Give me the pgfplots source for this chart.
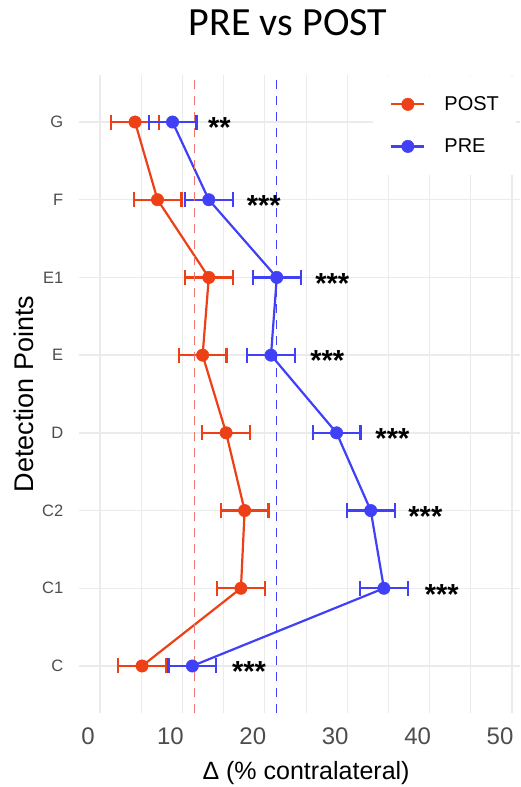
\documentclass[border=0pt]{standalone}
\usepackage{fontspec}
\setmainfont{Liberation Sans}
\newfontfamily\titlefont{Carlito}
\usepackage{pgfplots}
\usepackage{pgfplotstable}
\pgfplotsset{compat=1.18}
\definecolor{postc}{RGB}{238,64,22}
\definecolor{prec}{RGB}{64,64,246}
\definecolor{postdash}{RGB}{238,120,110}
\definecolor{gridc}{RGB}{235,235,235}
\definecolor{tickc}{RGB}{77,77,77}
\tikzset{sigstar/.style={anchor=base west, inner sep=0pt, yshift=-15.8bp, font=\bfseries\fontsize{29bp}{34bp}\selectfont}}

\pgfplotstableread{
y x e
0 5.10 2.9
1 17.10 2.9
2 17.55 2.9
3 15.30 2.9
4 12.45 2.9
5 13.20 2.9
6 6.98 2.9
7 4.25 2.9
}\posttable
\pgfplotstableread{
y x e
0 11.20 2.9
1 34.45 2.9
2 32.85 2.9
3 28.70 2.9
4 20.75 2.9
5 21.45 2.9
6 13.20 2.9
7 8.80 2.9
}\pretable

\begin{document}
\begin{tikzpicture}
\begin{axis}[
  scale only axis,
  width=440.84bp, height=637.1bp,
  xmin=-2.5, xmax=51, ymin=-0.6, ymax=7.6,
  axis line style={draw=none},
  tick style={draw=none},
  major tick length=0pt, minor tick length=0pt,
  xtick={0,10,...,50}, minor xtick={5,15,...,45},
  ytick={0,...,7}, yticklabels={C,C1,C2,D,E,E1,F,G},
  grid=both,
  major grid style={gridc, line width=1.3bp},
  minor grid style={gridc, line width=1.0bp},
  /pgf/number format/assume math mode=true,
  xticklabel style={font=\fontsize{24bp}{28bp}\selectfont, text=tickc, anchor=north, inner sep=0pt, yshift=-15bp, xshift=-12bp},
  yticklabel style={font=\fontsize{16.5bp}{19bp}\selectfont, text=tickc, anchor=east, inner sep=0pt, xshift=-16bp},
  xlabel={Δ (\% contralateral)},
  xlabel style={at={(axis description cs:0.514,-0.0945)}, anchor=center, font=\fontsize{25bp}{30bp}\selectfont},
  ylabel={Detection Points},
  ylabel style={at={(axis description cs:-0.1257,0.5)}, anchor=center, font=\fontsize{27bp}{32bp}\selectfont},
  title={PRE vs POST},
  title style={at={(axis description cs:0.4732,1.073)}, anchor=center, yshift=0pt, font=\titlefont\fontsize{40bp}{48bp}\selectfont},
  legend style={at={(axis description cs:0.666,1)}, anchor=north west, draw=none, fill=white,
    inner xsep=17bp, inner ysep=21bp, row sep=26.7bp,
    font=\fontsize{20bp}{24bp}\selectfont, nodes={inner sep=0pt},
    /tikz/every odd column/.append style={column sep=19bp}},
  legend cell align=left,
  legend image code/.code={\draw[mark repeat=2,mark phase=2,#1] plot coordinates {(0bp,0bp) (16.5bp,0bp) (33bp,0bp)};},
]
\addplot[postc, line width=2.2bp, mark=*, mark size=6.2bp,
  mark options={solid, fill=postc, draw=postc, line width=0.5bp},
  error bars/.cd, x dir=both, x explicit, error mark=|,
  error bar style={line width=2.2bp, postc},
  error mark options={line width=2.2bp, postc, mark size=7.5bp}]
  table[x=x, y=y, x error=e] {\posttable};
\addlegendentry{POST}
\addplot[prec, line width=2.2bp, mark=*, mark size=6.2bp,
  mark options={solid, fill=prec, draw=prec, line width=0.5bp},
  error bars/.cd, x dir=both, x explicit, error mark=|,
  error bar style={line width=2.2bp, prec},
  error mark options={line width=2.2bp, prec, mark size=7.5bp}]
  table[x=x, y=y, x error=e] {\pretable};
\addlegendentry{PRE}
\addplot[postdash, line width=1.3bp, dash pattern=on 9bp off 7bp, forget plot] coordinates {(11.49,-0.6) (11.49,7.6)};
\addplot[prec, line width=1.1bp, dash pattern=on 9bp off 7bp, forget plot] coordinates {(21.43,-0.6) (21.43,7.6)};
\node[sigstar] at (axis cs:13.1,7) {**};
\node[sigstar] at (axis cs:17.8,6) {***};
\node[sigstar] at (axis cs:26.1,5) {***};
\node[sigstar] at (axis cs:25.5,4) {***};
\node[sigstar] at (axis cs:33.4,3) {***};
\node[sigstar] at (axis cs:37.4,2) {***};
\node[sigstar] at (axis cs:39.4,1) {***};
\node[sigstar] at (axis cs:16.0,0) {***};
\end{axis}
\pgfresetboundingbox
\path[use as bounding box] (-79.4bp,-74.4bp) rectangle (440.6bp,712.5bp);
\end{tikzpicture}
\end{document}
